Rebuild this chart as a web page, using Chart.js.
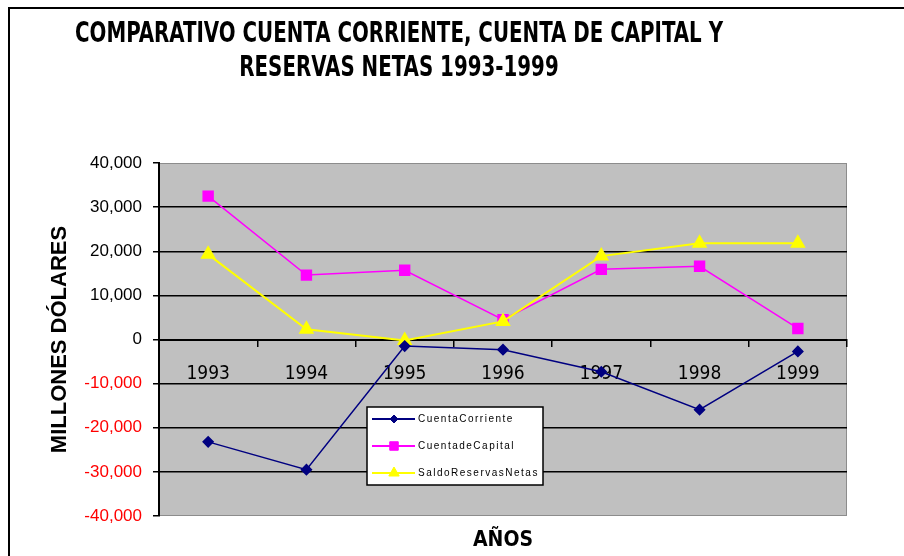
<!DOCTYPE html>
<html>
<head>
<meta charset="utf-8">
<script src="https://cdn.jsdelivr.net/npm/chart.js@4.4.1/dist/chart.umd.min.js"></script>
<style>
  html, body { margin: 0; padding: 0; background: #fff; }
  #wrap { width: 904px; height: 556px; }
</style>
</head>
<body>
<div id="wrap"><canvas id="chart" width="904" height="556"></canvas></div>
<script>
const YEARS = ['1993', '1994', '1995', '1996', '1997', '1998', '1999'];
const CUENTA_CORRIENTE = [-23200, -29500, -1500, -2300, -7300, -15900, -2700];
const CUENTA_CAPITAL = [32500, 14600, 15700, 4500, 15900, 16600, 2500];
const RESERVAS_NETAS = [19300, 2300, -200, 4100, 18900, 21800, 21800];
const Y_TICKS = [-40000, -30000, -20000, -10000, 0, 10000, 20000, 30000, 40000];
const TITLE_LINES = ['COMPARATIVO CUENTA CORRIENTE, CUENTA DE CAPITAL Y', 'RESERVAS NETAS 1993-1999'];
const LEGEND_LABELS = ['CuentaCorriente', 'CuentadeCapital', 'SaldoReservasNetas'];

const NAVY = '#000080';
const MAGENTA = '#FF00FF';
const YELLOW = '#FFFF00';
const PLOT_BG = '#C0C0C0';
const NARROW = "'Liberation Sans Narrow', 'Arial Narrow', 'DejaVu Sans Condensed', 'Liberation Sans', sans-serif";
const SANS = "'Liberation Sans', Arial, sans-serif";

// White page, outer frame, grey plot area with thin grey border.
const pageFramePlugin = {
  id: 'pageFrame',
  beforeDraw(chart) {
    const { ctx, chartArea: a } = chart;
    ctx.save();
    ctx.fillStyle = '#fff';
    ctx.fillRect(0, 0, chart.width, chart.height);
    ctx.strokeStyle = '#000';
    ctx.lineWidth = 2;
    ctx.beginPath();
    ctx.moveTo(9, chart.height);
    ctx.lineTo(9, 8);
    ctx.lineTo(chart.width, 8);
    ctx.stroke();
    ctx.fillStyle = PLOT_BG;
    ctx.fillRect(a.left, a.top, a.right - a.left, a.bottom - a.top);
    ctx.strokeStyle = '#8c8c8c';
    ctx.lineWidth = 1;
    ctx.strokeRect(a.left + 0.5, a.top + 0.5, a.right - a.left - 1, a.bottom - a.top - 1);
    ctx.restore();
  }
};

// Two-line condensed bold title, centred left of the page middle as in the original.
const titlePlugin = {
  id: 'pageTitle',
  afterDraw(chart) {
    const ctx = chart.ctx;
    ctx.save();
    ctx.font = `bold 29px ${NARROW}`;
    ctx.fillStyle = '#000';
    ctx.textAlign = 'center';
    ctx.textBaseline = 'alphabetic';
    const sx = Math.min(1, 648 / ctx.measureText(TITLE_LINES[0]).width);
    [[TITLE_LINES[0], 42], [TITLE_LINES[1], 76]].forEach(([text, y]) => {
      ctx.save();
      ctx.translate(399, y);
      ctx.scale(sx, 1);
      ctx.fillText(text, 0, 0);
      ctx.restore();
    });
    ctx.restore();
  }
};

// Boxed legend sitting inside the plot, drawn from the dataset styles.
const boxLegendPlugin = {
  id: 'boxLegend',
  afterDatasetsDraw(chart) {
    const ctx = chart.ctx;
    const box = { x: 367, y: 407, w: 176, h: 78 };
    ctx.save();
    ctx.fillStyle = '#fff';
    ctx.fillRect(box.x, box.y, box.w, box.h);
    ctx.strokeStyle = '#000';
    ctx.lineWidth = 1.5;
    ctx.strokeRect(box.x, box.y, box.w, box.h);
    ctx.font = `10px ${SANS}`;
    if ('letterSpacing' in ctx) ctx.letterSpacing = '1.5px';
    ctx.textBaseline = 'middle';
    LEGEND_LABELS.forEach((label, i) => {
      const ds = chart.data.datasets[i];
      const y = box.y + 12 + i * 27;
      ctx.strokeStyle = ds.borderColor;
      ctx.lineWidth = 2;
      ctx.beginPath();
      ctx.moveTo(box.x + 5, y);
      ctx.lineTo(box.x + 48, y);
      ctx.stroke();
      ctx.fillStyle = ds.pointBackgroundColor;
      ctx.strokeStyle = ds.pointBorderColor;
      ctx.lineWidth = 1;
      Chart.helpers.drawPoint(ctx, { pointStyle: ds.pointStyle, radius: ds.pointRadius - 1, borderWidth: 1, rotation: 0 }, box.x + 27, y);
      ctx.fillStyle = '#000';
      ctx.fillText(label, box.x + 51, y);
    });
    ctx.restore();
  }
};

function series(label, data, color, style, radius, width, order) {
  return {
    label, data, order,
    borderColor: color,
    backgroundColor: color,
    pointBackgroundColor: color,
    pointBorderColor: color,
    pointStyle: style,
    pointRadius: radius,
    pointHoverRadius: radius,
    borderWidth: width,
    tension: 0,
    fill: false
  };
}

new Chart(document.getElementById('chart'), {
  type: 'line',
  data: {
    labels: YEARS,
    datasets: [
      series(LEGEND_LABELS[0], CUENTA_CORRIENTE, NAVY, 'rectRot', 5, 1.5, 0),
      series(LEGEND_LABELS[1], CUENTA_CAPITAL, MAGENTA, 'rect', 7, 1.5, 2),
      series(LEGEND_LABELS[2], RESERVAS_NETAS, YELLOW, 'triangle', 7, 2, 1)
    ]
  },
  options: {
    responsive: false,
    animation: false,
    devicePixelRatio: 1,
    layout: { padding: { left: 47, right: 57, top: 163, bottom: 0 } },
    plugins: { legend: { display: false }, tooltip: { enabled: false }, title: { display: false } },
    scales: {
      x: {
        type: 'category',
        position: { y: 0 },
        offset: true,
        border: { display: true, color: '#000', width: 2 },
        grid: { offset: true, drawOnChartArea: false, drawTicks: true, tickLength: 6, tickColor: '#000', color: '#000', lineWidth: 1.5 },
        ticks: { color: '#000', font: { family: NARROW, size: 19 }, padding: 17, maxRotation: 0, autoSkip: false }
      },
      x2: {
        type: 'category',
        position: 'bottom',
        labels: YEARS,
        offset: true,
        grid: { display: false },
        border: { display: false },
        ticks: { display: false },
        title: { display: true, text: 'AÑOS', color: '#000', font: { family: NARROW, size: 21, weight: 'bold' }, padding: { top: 10, bottom: 3 } },
        afterFit: (s) => { s.height = 40; }
      },
      y: {
        min: -40000,
        max: 40000,
        afterBuildTicks: (s) => { s.ticks = Y_TICKS.map((v) => ({ value: v })); },
        afterFit: (s) => { s.width = 112; },
        border: { display: true, color: '#000', width: 2 },
        grid: {
          color: (c) => (Math.abs(c.tick.value) === 40000 ? 'rgba(0,0,0,0)' : '#000'),
          lineWidth: 1.5,
          tickLength: 6,
          tickColor: '#000'
        },
        ticks: {
          color: (c) => (c.tick.value < 0 ? '#FF0000' : '#000'),
          font: { family: SANS, size: 17 },
          padding: 11,
          callback: (v) => Number(v).toLocaleString('en-US')
        },
        title: { display: true, text: 'MILLONES DÓLARES', color: '#000', font: { family: SANS, size: 22, weight: 'bold' }, padding: { top: 0, bottom: 8 } }
      }
    }
  },
  plugins: [pageFramePlugin, titlePlugin, boxLegendPlugin]
});
</script>
</body>
</html>
